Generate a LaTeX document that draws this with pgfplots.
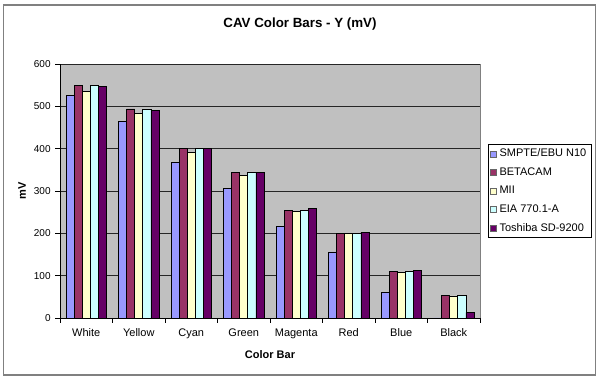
\documentclass[border=0pt]{standalone}
\usepackage{fontspec}
\setmainfont{Liberation Sans}
\usepackage{pgfplots}
\pgfplotsset{compat=1.18}
\definecolor{cA}{HTML}{9999FF}
\definecolor{cB}{HTML}{993366}
\definecolor{cC}{HTML}{FFFFCC}
\definecolor{cD}{HTML}{CCFFFF}
\definecolor{cE}{HTML}{660066}
\definecolor{bgc}{HTML}{C0C0C0}
\begin{document}
\begin{tikzpicture}
\path[use as bounding box] (0,0) rectangle (450pt,285.75pt);
\draw[black!50, line width=1pt] (2.5pt,4.5pt) rectangle (446.5pt,282pt);
\node[font=\bfseries\fontsize{10}{12}\selectfont] at (225pt,268pt) {CAV Color Bars - Y (mV)};
\begin{axis}[
  at={(45pt,47.25pt)}, anchor=south west,
  scale only axis, width=315pt, height=190.5pt,
  ybar=0pt, bar width=6.06pt,
  xmin=-0.5, xmax=7.5, ymin=0, ymax=600,
  axis background/.style={fill=bgc, draw=black!50},
  axis x line*=bottom, axis y line*=left,
  axis line style={black, line width=0.6pt},
  tick align=outside, major tick length=3.5pt,
  tick style={black, line width=0.6pt},
  xtick={-0.5,0.5,1.5,2.5,3.5,4.5,5.5,6.5,7.5},
  xticklabels={},
  extra x ticks={0,1,2,3,4,5,6,7},
  extra x tick labels={White,Yellow,Cyan,Green,Magenta,Red,Blue,Black},
  extra x tick style={major tick length=0pt, grid=none,
     tick label style={anchor=base, yshift=-14pt}},
  ytick={0,100,...,600},
  ymajorgrids, grid style={black!85, line width=0.6pt},
  /pgf/number format/assume math mode=true,
  yticklabel style={font=\fontsize{7.5}{9}\selectfont},
  xticklabel style={font=\fontsize{8.25}{10}\selectfont},
  xlabel={Color Bar}, ylabel={mV},
  label style={font=\bfseries\fontsize{8.25}{10}\selectfont},
  xlabel style={at={(axis description cs:0.5,-0.1457)}, anchor=center},
  ylabel style={at={(axis description cs:-0.0905,0.5)}, anchor=center},
  legend style={at={(1.019,0.685)}, anchor=north west, draw=black, fill=white,
    font=\fontsize{8.25}{10}\selectfont, row sep=2.6pt, inner sep=1.5pt,
    cells={anchor=west}},
  legend image code/.code={\draw[#1, draw=black!60] (0pt,-2.25pt) rectangle (4.5pt,2.25pt);},
]
\addplot[fill=cA, draw=black, line width=0.5pt] coordinates {(0,525) (1,465) (2,368) (3,307) (4,217) (5,156) (6,61) (7,0)};
\addplot[fill=cB, draw=black, line width=0.5pt] coordinates {(0,550) (1,494) (2,401) (3,344) (4,255) (5,200) (6,111) (7,54)};
\addplot[fill=cC, draw=black, line width=0.5pt] coordinates {(0,536) (1,484) (2,392) (3,336) (4,251) (5,199) (6,108) (7,52)};
\addplot[fill=cD, draw=black, line width=0.5pt] coordinates {(0,550) (1,494) (2,401) (3,344) (4,255) (5,200) (6,111) (7,54)};
\addplot[fill=cE, draw=black, line width=0.5pt] coordinates {(0,548) (1,491) (2,401) (3,344) (4,258) (5,203) (6,113) (7,13)};
\legend{SMPTE/EBU N10,BETACAM,MII,EIA 770.1-A,Toshiba SD-9200}
\end{axis}
\end{tikzpicture}
\end{document}
